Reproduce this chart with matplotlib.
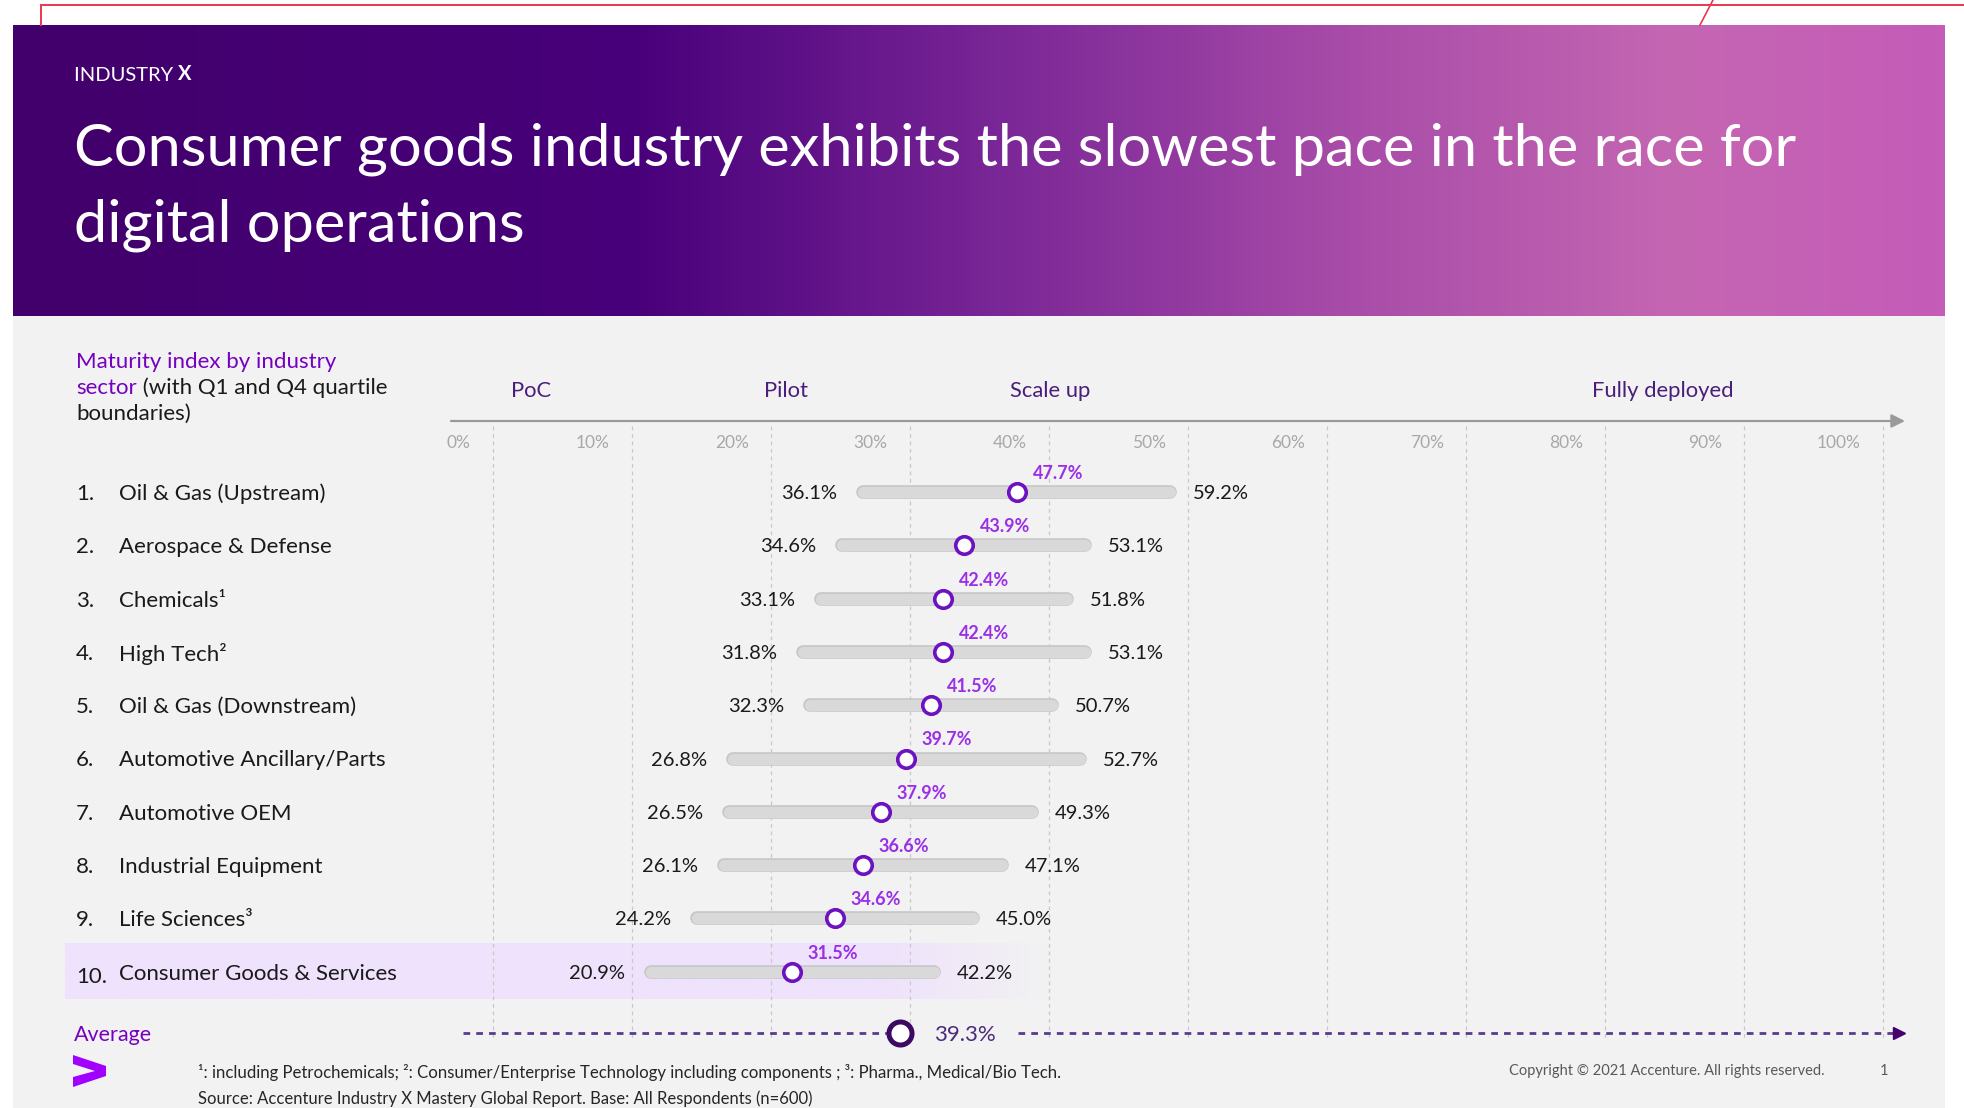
import matplotlib
matplotlib.use("Agg")
import matplotlib.pyplot as plt
import numpy as np
from matplotlib.colors import LinearSegmentedColormap, to_rgb
from matplotlib.patches import Rectangle, Polygon

plt.rcParams['font.family'] = ['Lato', 'DejaVu Sans']

# ---- data ----
industries = ["Oil & Gas (Upstream)", "Aerospace & Defense", "Chemicals\u00b9", "High Tech\u00b2",
              "Oil & Gas (Downstream)", "Automotive Ancillary/Parts", "Automotive OEM",
              "Industrial Equipment", "Life Sciences\u00b3", "Consumer Goods & Services"]
q1 = [36.1, 34.6, 33.1, 31.8, 32.3, 26.8, 26.5, 26.1, 24.2, 20.9]
median = [47.7, 43.9, 42.4, 42.4, 41.5, 39.7, 37.9, 36.6, 34.6, 31.5]
q4 = [59.2, 53.1, 51.8, 53.1, 50.7, 52.7, 49.3, 47.1, 45.0, 42.2]
average = 39.3
pct_ticks = list(range(0, 101, 10))
stages = ["PoC", "Pilot", "Scale up", "Fully deployed"]
highlight = 9  # consumer goods row

# ---- layout (pixels of the 1964x1108 slide) ----
W, H = 1964, 1108
PX0, PXS = 354, 13.9      # pixel of 0 %, pixels per %
ROW0, ROWS = 492, 53.3    # pixel of first row, pixels per row
stage_px = [531, 786, 1050, 1663]

PURPLE = '#7500c0'
BRIGHT = '#9b2fe6'
DARK = '#46006e'
TEXT = '#1a1a1a'


def px_x(p):
    return (p - PX0) / PXS


def px_y(p):
    return (p - ROW0) / ROWS


fig = plt.figure(figsize=(W / 100, H / 100), dpi=100)
fig.patch.set_facecolor('white')

# background / decoration axes in pixel coordinates
bg = fig.add_axes([0, 0, 1, 1])
bg.axis('off')

cmap = LinearSegmentedColormap.from_list(
    'banner', [(0, '#41006b'), (0.32, '#48007a'), (0.5, '#772495'),
               (0.68, '#a64aa8'), (0.86, '#c466b2'), (1, '#c45cb8')])
bg.imshow(np.linspace(0, 1, 512).reshape(1, -1), cmap=cmap,
          extent=[13, 1945, 316, 25], aspect='auto', interpolation='bicubic')
bg.add_patch(Rectangle((13, 316), 1932, H - 316, color='#f2f2f2', lw=0, zorder=1))

band = np.zeros((1, 400, 4))
band[..., :3] = to_rgb('#efe2fc')
xs = np.linspace(65, 1052, 400)
band[0, :, 3] = np.clip((1052 - xs) / (1052 - 880), 0, 1)
yb = ROW0 + ROWS * highlight
bg.imshow(band, extent=[65, 1052, yb + 27, yb - 29], aspect='auto', zorder=2)

# screenshot red marks
bg.plot([41, W], [5, 5], color='#e8374f', lw=1.4)
bg.plot([41, 41], [5, 25], color='#e8374f', lw=1.4)
bg.plot([1713, 1700], [0, 25], color='#e8374f', lw=1.2)

# accenture chevron
bg.add_patch(Polygon([(73, 1055), (106, 1066), (106, 1076), (73, 1087), (73, 1077),
                      (95, 1071), (73, 1064)], closed=True, color='#a100ff', lw=0, zorder=3))
bg.set_xlim(0, W)
bg.set_ylim(H, 0)

# header texts
t = bg.text(74, 81, "INDUSTRY ", color='white', fontsize=14.5, va='baseline')
bg.annotate("X", xy=(1, 0), xycoords=t, va='bottom', ha='left', color='white',
            fontsize=14.5, fontweight='bold')
bg.text(74, 166, "Consumer goods industry exhibits the slowest pace in the race for",
        color='white', fontsize=42.8, va='baseline')
bg.text(74, 242, "digital operations", color='white', fontsize=42.8, va='baseline')

bg.text(76, 368, "Maturity index by industry", color=PURPLE, fontsize=16, va='baseline')
t = bg.text(76, 394, "sector", color=PURPLE, fontsize=16, va='baseline')
bg.annotate(" (with Q1 and Q4 quartile", xy=(1, 0), xycoords=t, va='bottom', ha='left',
            color=TEXT, fontsize=16)
bg.text(76, 420, "boundaries)", color=TEXT, fontsize=16, va='baseline')

for i, name in enumerate(industries):
    y = ROW0 + ROWS * i
    bg.text(76, y + (3 if i == highlight else 0), f"{i + 1}.", color=TEXT, fontsize=16,
            va='center_baseline', zorder=4)
    bg.text(119, y, name, color=TEXT, fontsize=16, va='center_baseline', zorder=4)

bg.text(74, 1033, "Average", color=PURPLE, fontsize=15.5, va='center_baseline')

bg.text(198, 1078, "\u00b9: including Petrochemicals; \u00b2: Consumer/Enterprise Technology "
        "including components ; \u00b3: Pharma., Medical/Bio Tech.",
        color='#262626', fontsize=12.1, va='baseline')
bg.text(198, 1104, "Source: Accenture Industry X Mastery Global Report. Base: All Respondents (n=600)",
        color='#262626', fontsize=12, va='baseline')
bg.text(1509, 1075, "Copyright \u00a9 2021 Accenture. All rights reserved.",
        color='#595959', fontsize=10.5, va='baseline')
bg.text(1880, 1075, "1", color='#595959', fontsize=10.5, va='baseline')

# ---- chart axes: x in %, y in rows ----
ax = fig.add_axes([0, 0, 1, 1])
ax.set_xlim(px_x(0), px_x(W))
ax.set_ylim(px_y(H), px_y(0))
ax.axis('off')

axis_y = px_y(421)
for v in pct_ticks:
    ax.plot([v + 10, v + 10], [px_y(426), px_y(1040)], color='#c8c8c8', lw=0.9,
            ls=(0, (3, 3)), zorder=1)
    ax.text(v + 10 - 1.6, px_y(441), f"{v}%", ha='right', va='center_baseline',
            color='#a8a8a8', fontsize=12.5)

ax.annotate('', xy=(px_x(1905), axis_y), xytext=(px_x(451), axis_y),
            arrowprops=dict(arrowstyle='-|>', color='#9a9a9a', lw=1.6, mutation_scale=20,
                            shrinkA=0, shrinkB=0))
for name, p in zip(stages, stage_px):
    ax.text(px_x(p), px_y(389), name, ha='center', va='center_baseline', color='#4a1e7a',
            fontsize=15.8)

half = 4.9 * 100 / 72 / PXS   # round cap half width in %
for i in range(len(industries)):
    ax.plot([q1[i] + half, q4[i] - half], [i, i], color='#c6c6c6', lw=9.8,
            solid_capstyle='round', zorder=2)
    ax.plot([q1[i] + half, q4[i] - half], [i, i], color='#d9d9d9', lw=8.2,
            solid_capstyle='round', zorder=2)
    ax.plot(median[i], i, 'o', ms=12.6, mfc='white', mec='#6c12c0', mew=2.6, zorder=3)
    ax.text(q1[i] - 1.37, i, f"{q1[i]:.1f}%", ha='right', va='center_baseline',
            color=TEXT, fontsize=14.5)
    ax.text(q4[i] + 1.15, i, f"{q4[i]:.1f}%", ha='left', va='center_baseline',
            color=TEXT, fontsize=14.5)
    ax.text(median[i] + 2.95, i - 0.376, f"{median[i]:.1f}%", ha='center',
            va='center_baseline', color=BRIGHT, fontsize=13, fontweight='bold')

# average line
ay = px_y(1033)
dash = dict(color='#5a3a8c', lw=2.0, dashes=(2.4, 2.2), zorder=2)
ax.plot([px_x(463), average], [ay, ay], **dash)
ax.plot([average + 8.5, px_x(1897)], [ay, ay], **dash)
ax.plot(px_x(1899), ay, marker='>', ms=8, color=DARK, zorder=3)
ax.plot(average, ay, 'o', ms=16.6, mfc='white', mec='#3c0a63', mew=3.6, zorder=3)
ax.text(average + 2.45, ay, f"{average:.1f}%", ha='left', va='center_baseline',
        color='#4b2a7b', fontsize=16)

fig.savefig('out.png', dpi=100)
